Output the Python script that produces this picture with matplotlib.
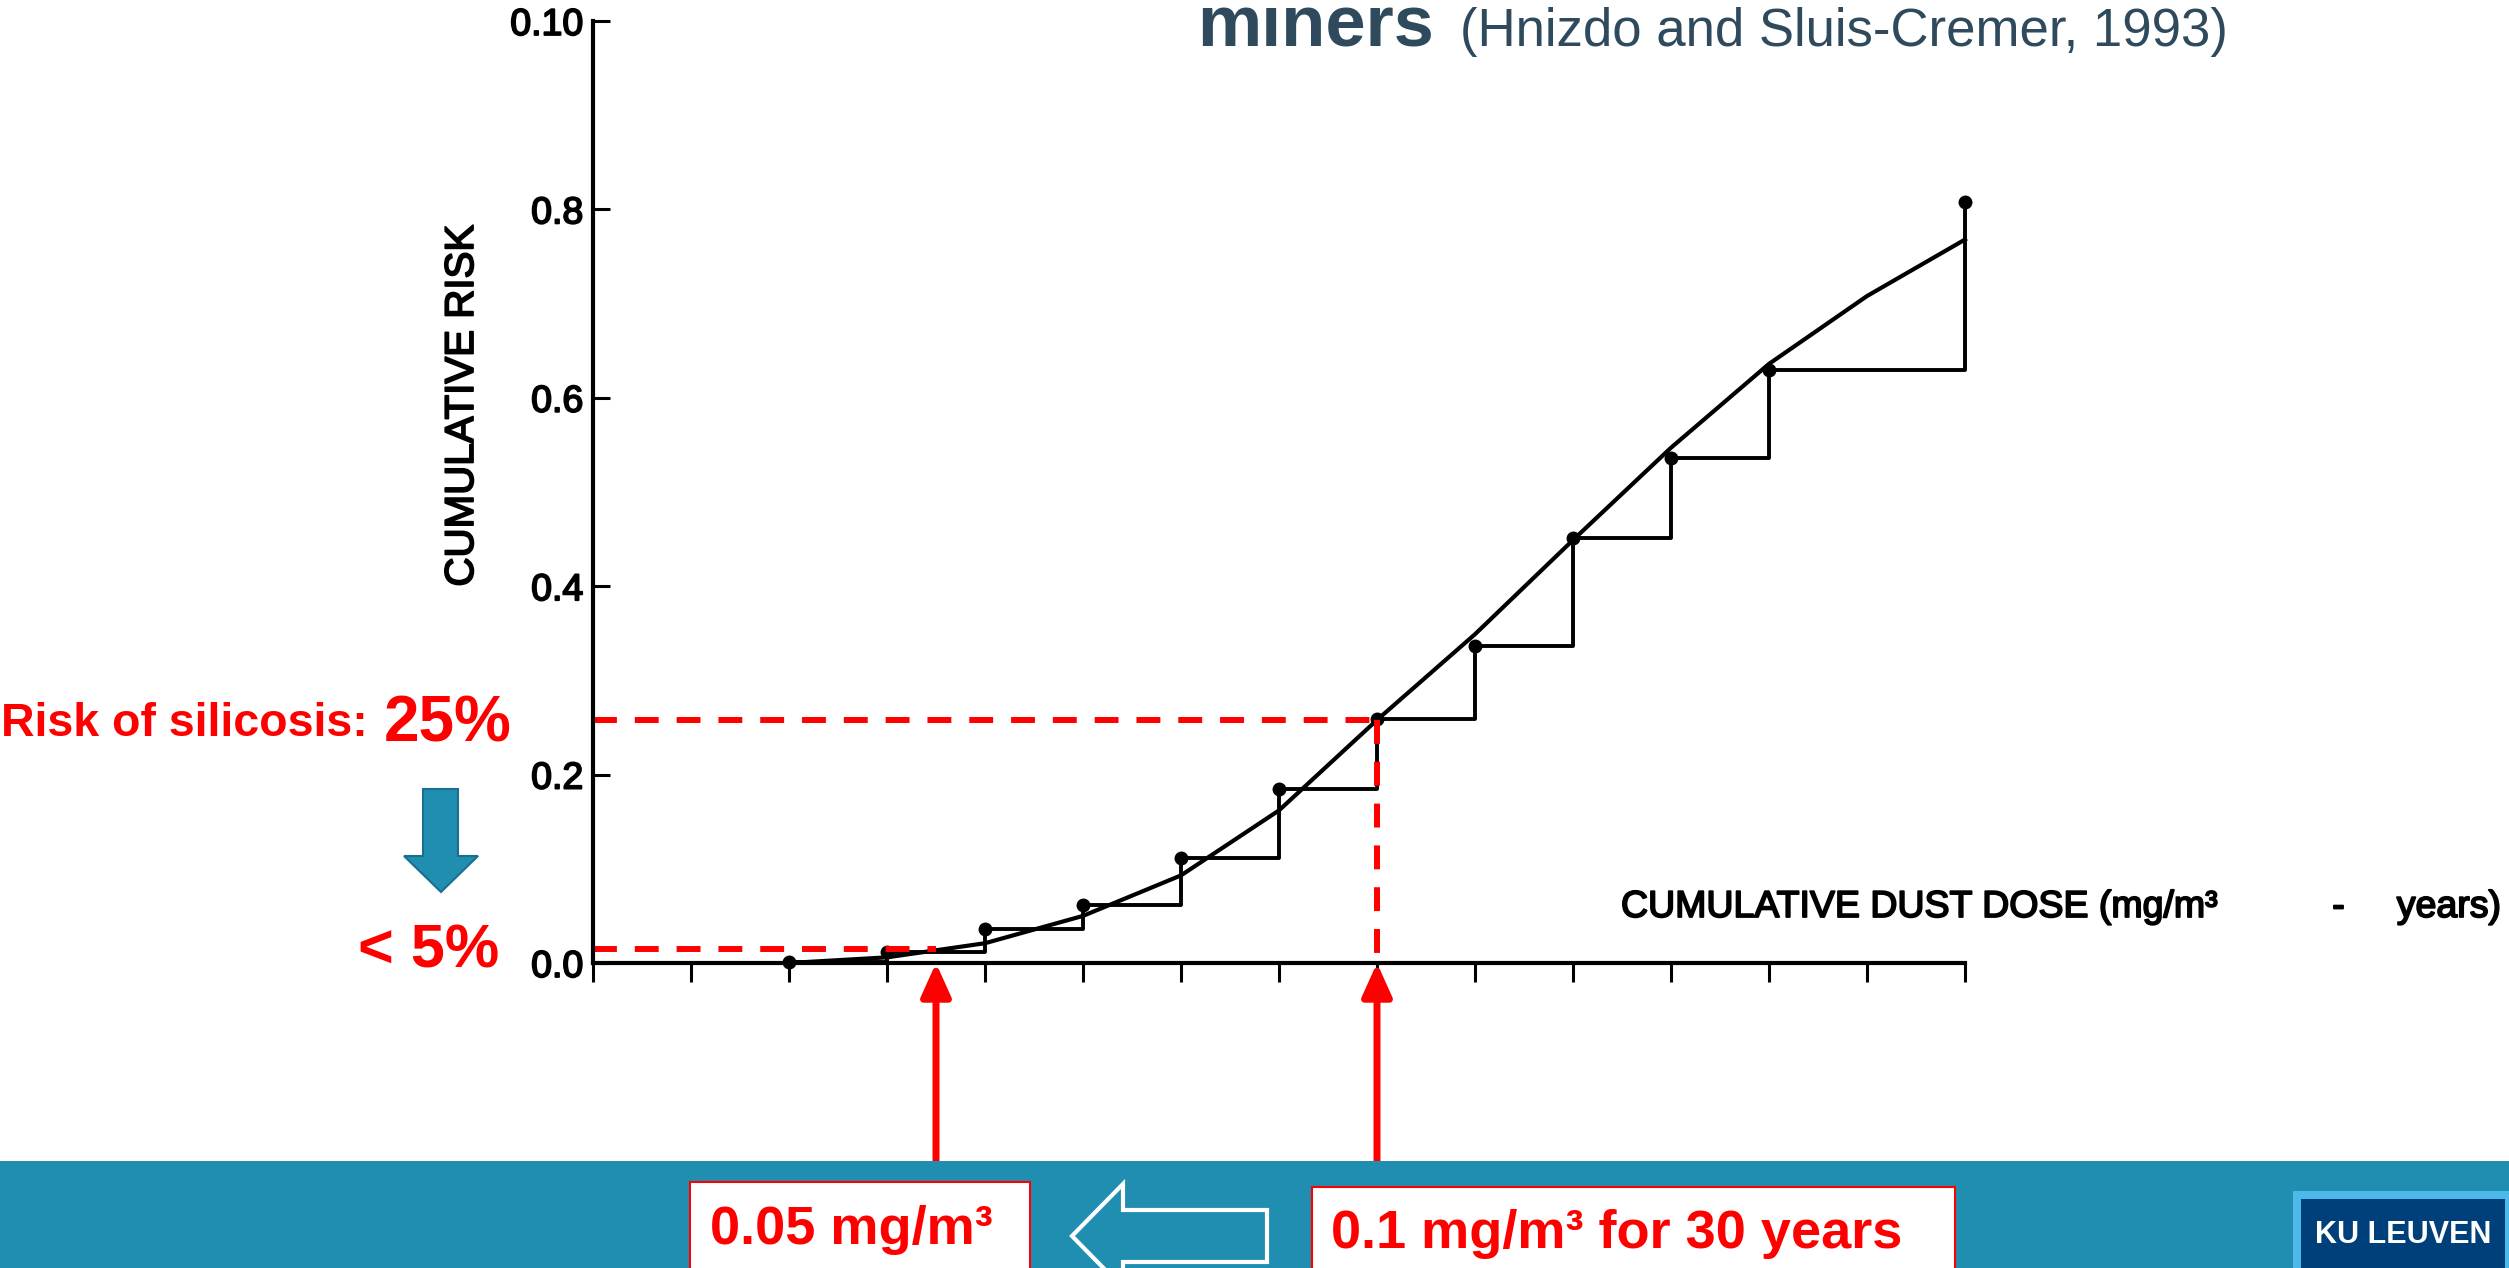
import matplotlib
matplotlib.use("Agg")
import matplotlib.pyplot as plt
import matplotlib.patheffects as pe
from matplotlib.patches import Rectangle, Polygon
from matplotlib.transforms import blended_transform_factory

# ---------------- data ----------------
dose_ticks = list(range(15))
point_dose = [2, 3, 4, 5, 6, 7, 8, 9, 10, 11, 12, 14]
point_risk = [0.001, 0.012, 0.036, 0.062, 0.111, 0.185, 0.259, 0.337, 0.451, 0.536, 0.629, 0.808]
curve_dose = [2, 3, 4, 5, 6, 7, 8, 9, 10, 11, 12, 13, 14]
curve_risk = [0.0, 0.006, 0.021, 0.050, 0.093, 0.162, 0.258, 0.349, 0.449, 0.547, 0.636, 0.708, 0.768]
ytick_vals = [0.0, 0.2, 0.4, 0.6, 0.8, 1.0]
ytick_labels = ["0.0", "0.2", "0.4", "0.6", "0.8", "0.10"]
dose_current, risk_current = 8.0, 0.258
dose_new, risk_new = 3.5, 0.015

W, H = 2509, 1268
plt.rcParams['font.family'] = ['Liberation Sans', 'DejaVu Sans']

RED = '#FF0000'
TEAL = '#208EB1'
TITLE = '#2E4A5C'
heavy = [pe.withStroke(linewidth=1.3, foreground='black')]


def fx(x):
    return x / W


def fy(y):
    return 1 - y / H


fig = plt.figure(figsize=(W / 100, H / 100), dpi=100)
fig.patch.set_facecolor('white')

ax = fig.add_axes([fx(593), fy(963), 1372 / W, 942 / H])
ax.set_xlim(0, 14)
ax.set_ylim(0, 1.0)
for s in ['top', 'right']:
    ax.spines[s].set_visible(False)
for s in ['left', 'bottom']:
    ax.spines[s].set_linewidth(3.0)
ax.set_xticks(dose_ticks)
ax.set_xticklabels([])
ax.tick_params(axis='x', direction='out', length=14, width=2.2)
ax.set_yticks(ytick_vals)
ax.set_yticklabels(ytick_labels)
ax.tick_params(axis='y', direction='in', length=12, width=2.2, pad=7, labelsize=27)
for lab in ax.get_yticklabels():
    lab.set_path_effects(heavy)

# fitted curve and step function
ax.plot(curve_dose, curve_risk, color='black', lw=3.0, clip_on=False)
ax.step(point_dose, point_risk, where='post', color='black', lw=2.8, clip_on=False)
ax.plot(point_dose, point_risk, 'o', color='black', ms=9, clip_on=False)

# red dashed guides
dash_kw = dict(color=RED, lw=4.3, dashes=(4, 3), dash_capstyle='butt', clip_on=False)
ax.plot([0, dose_current], [risk_current, risk_current], **dash_kw)
ax.plot([dose_current, dose_current], [risk_current, 0], **dash_kw)
ax.plot([0, dose_new], [risk_new, risk_new], **dash_kw)

# axis labels
fig.text(fx(462), fy(406), 'CUMULATIVE RISK', rotation=90, ha='center', va='center',
         fontsize=29, color='black', path_effects=heavy)
fig.text(fx(1621), fy(907), 'CUMULATIVE DUST DOSE (mg/m\u00b3           -     years)',
         ha='left', va='center', fontsize=27, color='black', path_effects=heavy)

# title
fig.text(fx(1197), fy(46), 'miners', ha='left', va='baseline', fontsize=52,
         fontweight='bold', color=TITLE)
fig.text(fx(1460), fy(46), '(Hnizdo and Sluis-Cremer, 1993)', ha='left', va='baseline',
         fontsize=38, color=TITLE)

# risk annotations
fig.text(fx(1), fy(736), 'Risk of silicosis:', ha='left', va='baseline', fontsize=33.5,
         fontweight='bold', color=RED)
fig.text(fx(384), fy(741), '25%', ha='left', va='baseline', fontsize=46,
         fontweight='bold', color=RED)
fig.text(fx(358), fy(968), '< 5%', ha='left', va='baseline', fontsize=44,
         fontweight='bold', color=RED)

down = [(423, 789), (458, 789), (458, 856), (478, 856), (441, 892), (404, 856), (423, 856)]
fig.patches.append(Polygon([(fx(x), fy(y)) for x, y in down], closed=True,
                           transform=fig.transFigure, facecolor=TEAL, edgecolor='#19708E', lw=1.5))

# bottom band
fig.patches.append(Rectangle((0, 0), 1, fy(1161), transform=fig.transFigure,
                             facecolor=TEAL, edgecolor='none', zorder=0))

# boxes
fig.patches.append(Rectangle((fx(690), fy(1275)), (1030 - 690) / W, (1275 - 1182) / H,
                             transform=fig.transFigure, facecolor='white', edgecolor=RED, lw=1.5))
fig.patches.append(Rectangle((fx(1312), fy(1275)), (1955 - 1312) / W, (1275 - 1187) / H,
                             transform=fig.transFigure, facecolor='white', edgecolor=RED, lw=1.5))
fig.text(fx(710), fy(1244), '0.05 mg/m\u00b3', ha='left', va='baseline', fontsize=39,
         fontweight='bold', color=RED)
fig.text(fx(1331), fy(1248), '0.1 mg/m\u00b3 for 30 years', ha='left', va='baseline', fontsize=39,
         fontweight='bold', color=RED)

# hollow arrow
hollow = [(1072, 1236), (1123, 1184), (1123, 1210), (1267, 1210), (1267, 1262),
          (1123, 1262), (1123, 1288)]
fig.patches.append(Polygon([(fx(x), fy(y)) for x, y in hollow], closed=True,
                           transform=fig.transFigure, facecolor=TEAL, edgecolor='white', lw=3))

# red arrows from boxes to the axis
btrans = blended_transform_factory(ax.transData, fig.transFigure)
for dose, ytop in [(dose_new, 1182), (dose_current, 1187)]:
    ax.annotate('', xy=(dose, 0), xycoords='data', xytext=(dose, fy(ytop)), textcoords=btrans,
                arrowprops=dict(arrowstyle='-|>,head_length=1.0,head_width=0.45', color=RED,
                                lw=5, shrinkA=0, shrinkB=0, mutation_scale=20),
                annotation_clip=False)

# KU Leuven logo
fig.patches.append(Rectangle((fx(2293), 0), (W - 2293) / W, fy(1191), transform=fig.transFigure,
                             facecolor='#4DB8EA', edgecolor='none'))
fig.patches.append(Rectangle((fx(2301), 0), (2505 - 2301) / W, fy(1199), transform=fig.transFigure,
                             facecolor='#00407A', edgecolor='none'))
fig.text(fx(2403), fy(1243), 'KU LEUVEN', ha='center', va='baseline', fontsize=22,
         fontweight='bold', color='white')

fig.savefig('out.png', dpi=100)
